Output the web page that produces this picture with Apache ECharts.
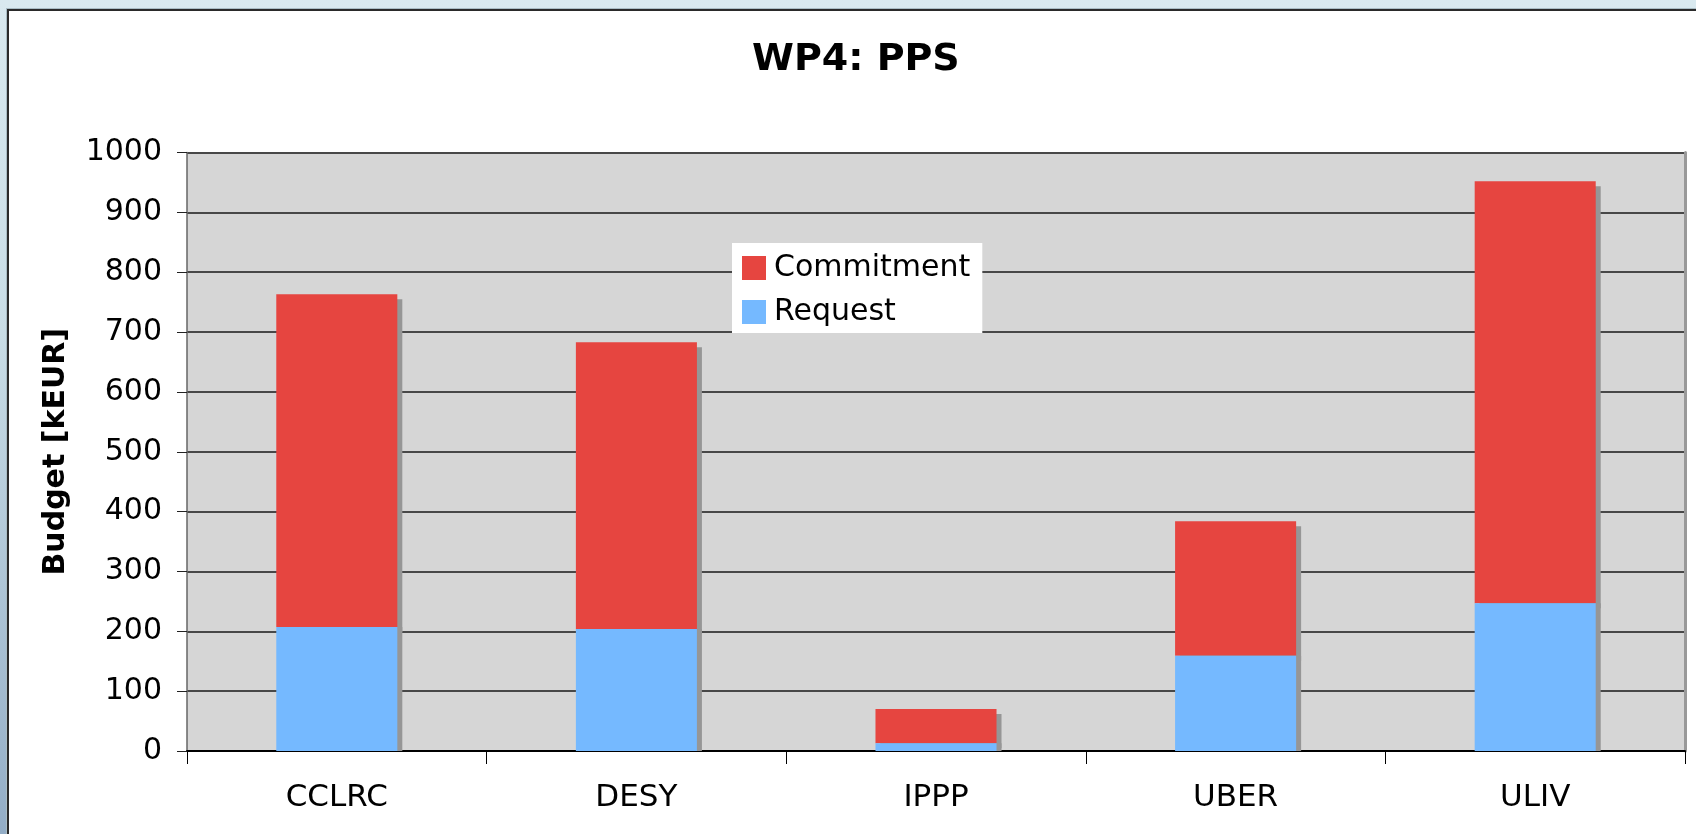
<!DOCTYPE html>
<html>
<head>
<meta charset="utf-8">
<script src="https://cdn.jsdelivr.net/npm/echarts@6/dist/echarts.min.js"></script>
<style>
  html, body { margin:0; padding:0; width:1696px; height:834px; overflow:hidden; }
  body { background: linear-gradient(to bottom, #d9e9ef 0%, #c9dde6 40%, #93adc6 100%); position:relative; }
  #frame { position:absolute; left:7px; top:9px; width:1700px; height:840px; background:#ffffff;
           border-left:2px solid #2a2a2a; border-top:2px solid #2a2a2a; box-shadow:-1px -1px 0 #a9bcc4; }
  #chart { position:absolute; left:0; top:0; width:1696px; height:834px; }
</style>
</head>
<body>
<div id="frame"></div>
<div id="chart"></div>
<script>
const categories = ['CCLRC', 'DESY', 'IPPP', 'UBER', 'ULIV'];
const requestValues = [207, 204, 13, 159, 247];
const commitmentValues = [556, 479, 57, 225, 705];
const yTicks = { min: 0, max: 1000, interval: 100 };

const FONT = 'DejaVu Sans';
const chart = echarts.init(document.getElementById('chart'), null, { renderer: 'canvas' });
chart.setOption({
  animation: false,
  backgroundColor: 'transparent',
  title: {
    text: 'WP4: PPS',
    left: 747, top: 35,
    textStyle: { fontFamily: FONT, fontWeight: 'bold', fontSize: 38, color: '#000', lineHeight: 40 }
  },
  legend: {
    orient: 'vertical',
    left: 732, top: 243,
    data: ['Commitment', 'Request'],
    backgroundColor: '#ffffff',
    padding: [10, 12, 6, 10],
    itemWidth: 24, itemHeight: 24, itemGap: 14,
    icon: 'rect',
    textStyle: { fontFamily: FONT, fontSize: 30, color: '#000', lineHeight: 24, padding: [0, 0, 0, 3] }
  },
  grid: {
    left: 187, right: 11, top: 152.5, bottom: 83,
    show: true, backgroundColor: '#d6d6d6', borderWidth: 0
  },
  xAxis: {
    type: 'category',
    data: categories,
    axisLine: { lineStyle: { color: '#000', width: 2 } },
    axisTick: { show: true, length: 13, lineStyle: { color: '#000', width: 1 } },
    axisLabel: { fontFamily: FONT, fontSize: 31, color: '#000', margin: 31 }
  },
  yAxis: [{
    type: 'value',
    min: yTicks.min, max: yTicks.max, interval: yTicks.interval,
    name: 'Budget [kEUR]',
    nameLocation: 'middle',
    nameGap: 116,
    nameRotate: 90,
    nameTextStyle: { fontFamily: FONT, fontWeight: 'bold', fontSize: 30, color: '#000' },
    axisLine: { show: true, lineStyle: { color: '#666', width: 1.5 } },
    axisTick: { show: true, length: 10, lineStyle: { color: '#222', width: 1 } },
    axisLabel: { fontFamily: FONT, fontSize: 30, color: '#000', margin: 25, formatter: (v) => String(v) },
    splitLine: { show: true, lineStyle: { color: '#484848', width: 2 } }
  }, {
    type: 'value',
    position: 'right',
    min: yTicks.min, max: yTicks.max, interval: yTicks.interval,
    axisLine: { show: true, lineStyle: { color: '#999', width: 3 } },
    axisTick: { show: false },
    axisLabel: { show: false },
    splitLine: { show: false }
  }],
  series: [{
    name: 'Request',
    type: 'bar',
    stack: 'total',
    barWidth: '40.4%',
    z: 3,
    data: requestValues,
    itemStyle: { color: '#75b9ff', shadowColor: '#969696', shadowOffsetX: 5, shadowOffsetY: 0, shadowBlur: 0 }
  }, {
    name: 'Commitment',
    type: 'bar',
    stack: 'total',
    barWidth: '40.4%',
    z: 2,
    data: commitmentValues,
    itemStyle: { color: '#e64540', shadowColor: '#969696', shadowOffsetX: 5, shadowOffsetY: 5, shadowBlur: 0 }
  }]
});
</script>
</body>
</html>
